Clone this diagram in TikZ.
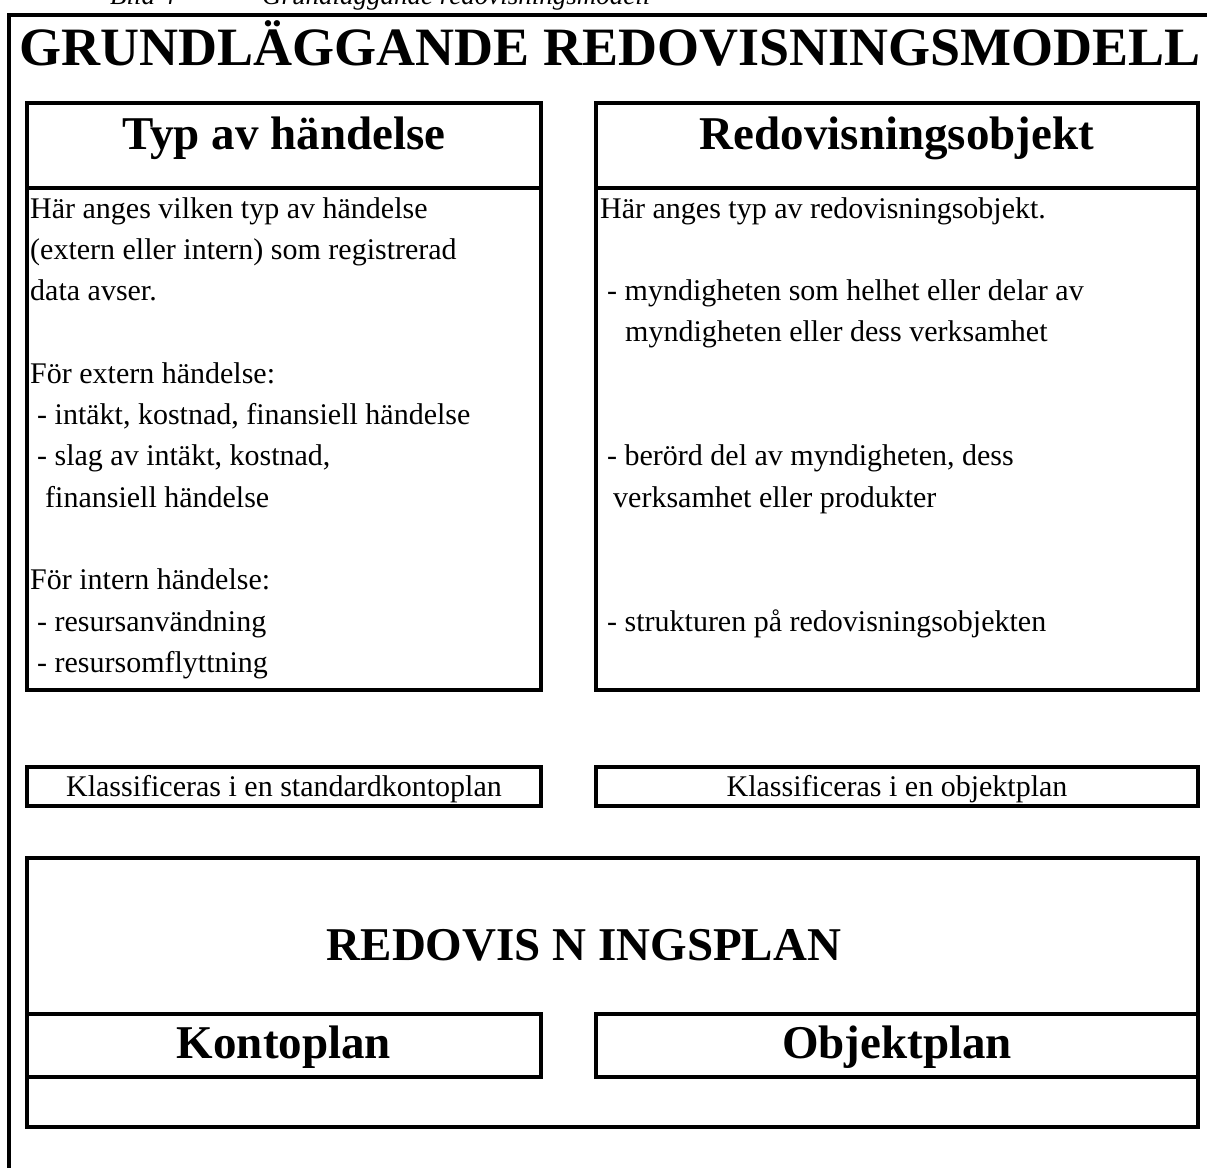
\documentclass[tikz,border=0pt]{standalone}
\usepackage{fontspec}
\setmainfont{Liberation Serif}
\usetikzlibrary{positioning}

\begin{document}
\begin{tikzpicture}[x=1pt, y=-1pt, inner sep=0pt,
                    frame/.style={line width=4pt},
                    titletext/.style={anchor=base, font=\fontsize{54}{60}\selectfont\bfseries},
                    headtext/.style={anchor=base, font=\fontsize{47}{52}\selectfont\bfseries},
                    bodytext/.style={anchor=base west, font=\fontsize{30}{36}\selectfont},
                    captext/.style={anchor=base west, font=\fontsize{27}{32}\selectfont\itshape}]
                    \useasboundingbox (0,0) rectangle (1207,1167);
                    
                    % caption above the frame, cut by the page
                    \node [captext] (bild) at (110,5) {Bild 4};
                    \node [captext] (bildtitle) at (262,5) {Grundläggande redovisningsmodell};
                    
                    % outer frame, open to the right and below
                    \draw [frame] (9,1190) -- (9,15) -- (1230,15);
                    \node [titletext] (title) at (610,65) {GRUNDLÄGGANDE REDOVISNINGSMODELL};
                    
                    \begin{scope}[frame]
                        \draw (27,103) rectangle (541,188);
                        \draw (27,188) rectangle (541,690);
                        \draw (596,103) rectangle (1198,188);
                        \draw (596,188) rectangle (1198,690);
                        \draw (27,767) rectangle (541,806);
                        \draw (596,767) rectangle (1198,806);
                        \draw (27,858) rectangle (1198,1127);
                        \draw (27,1014) rectangle (541,1077);
                        \draw (596,1014) rectangle (1198,1077);
                    \end{scope}
                    
                    \node [headtext] (typ) at (284,149) {Typ av händelse};
                    \node [headtext] (objekt) at (897,149) {Redovisningsobjekt};
                    
                    \foreach \n/\txt in {0/{Här anges vilken typ av händelse}, 1/{(extern eller intern) som registrerad}, 2/{data avser.},
                                         4/{För extern händelse:}, 5/{\hspace*{7pt}- intäkt, kostnad, finansiell händelse},
                                         6/{\hspace*{7pt}- slag av intäkt, kostnad,}, 7/{\hspace*{15pt}finansiell händelse},
                                         9/{För intern händelse:}, 10/{\hspace*{7pt}- resursanvändning}, 11/{\hspace*{7pt}- resursomflyttning}} {%
                        \node [bodytext] (typline\n) at (30,218+41.3*\n) {\txt};
                    }
                    \foreach \n/\txt in {0/{Här anges typ av redovisningsobjekt.},
                                         2/{\hspace*{7pt}- myndigheten som helhet eller delar av}, 3/{\hspace*{25pt}myndigheten eller dess verksamhet},
                                         6/{\hspace*{7pt}- berörd del av myndigheten, dess}, 7/{\hspace*{13pt}verksamhet eller produkter},
                                         10/{\hspace*{7pt}- strukturen på redovisningsobjekten}} {%
                        \node [bodytext] (objline\n) at (600,218+41.3*\n) {\txt};
                    }
                    
                    \node [bodytext, anchor=base] (klasskonto) at (284,796) {Klassificeras i en standardkontoplan};
                    \node [bodytext, anchor=base] (klassobjekt) at (897,796) {Klassificeras i en objektplan};
                    
                    \node [headtext] (redplan) at (584,960) {REDOVIS N INGSPLAN};
                    \node [headtext] (konto) at (284,1058) {Kontoplan};
                    \node [headtext] (objplan) at (897,1058) {Objektplan};
                \end{tikzpicture}
\end{document}
